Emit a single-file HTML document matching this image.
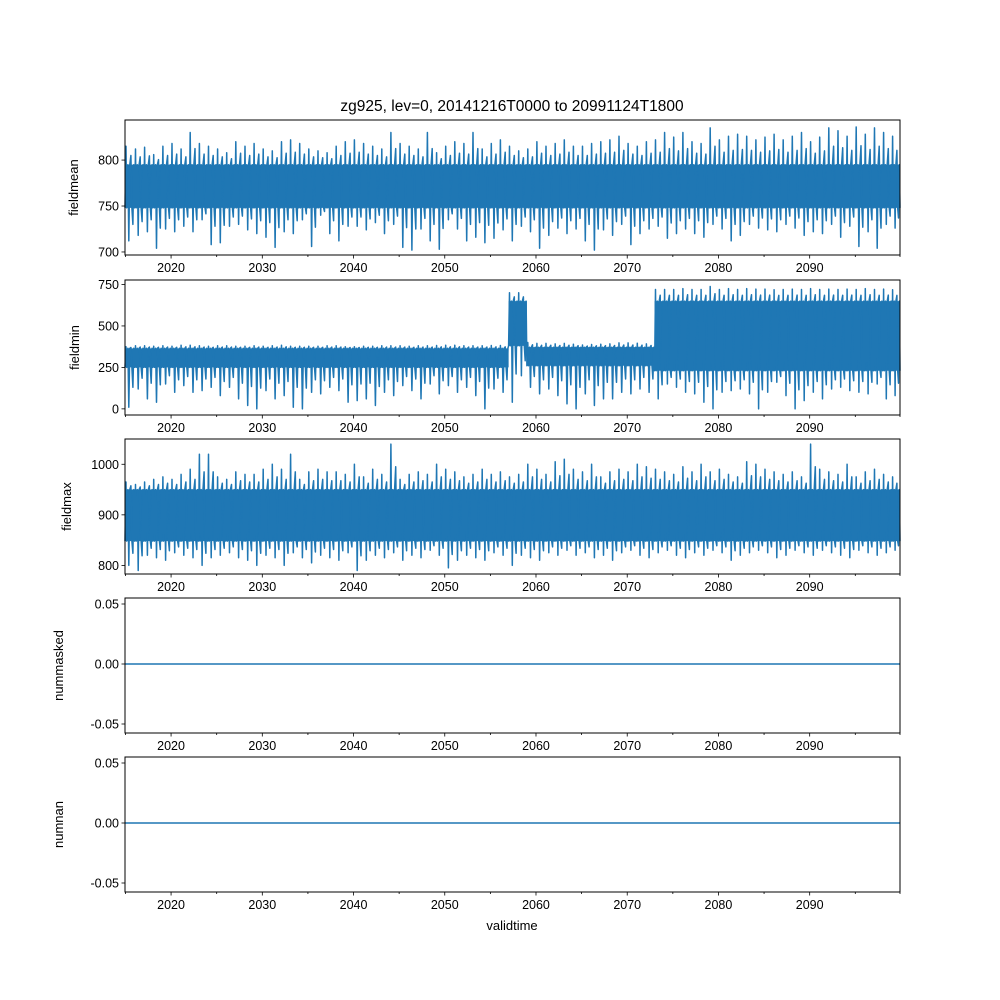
<!DOCTYPE html>
<html><head><meta charset="utf-8"><style>
body{margin:0;background:#fff}
svg{display:block;font-family:"Liberation Sans","DejaVu Sans",sans-serif}
</style></head><body>
<svg id="chart" width="1000" height="1000" viewBox="0 0 1000 1000">
<rect width="1000" height="1000" fill="#fff"/>
<text x="512" y="111" font-size="15.5" text-anchor="middle">zg925, lev=0, 20141216T0000 to 20991124T1800</text>
<text x="512" y="930" font-size="13" text-anchor="middle">validtime</text>
</svg>
<script>
// yearly envelopes, 2015..2099 (85 values each)
const fmHi=[815,812,814,806,815,818,812,830,818,815, 812,808,820,815,818,812,810,820,822,818, 812,810,808,815,820,822,818,815,812,830, 818,815,812,830,808,815,820,818,830,812, 818,822,815,810,812,820,815,818,822,815, 815,818,820,822,826,818,815,820,822,830, 825,830,820,818,835,822,826,828,826,822, 825,828,822,826,830,820,825,835,832,826, 836,828,835,830,826];
const fmLo=[712,718,722,704,725,722,728,722,735,708, 710,728,730,724,720,716,705,722,720,735, 706,740,720,712,728,728,724,732,720,730, 705,702,725,712,703,735,725,712,716,710, 715,724,712,728,722,704,718,726,720,725, 712,702,724,718,730,708,720,725,728,715, 720,725,720,716,730,725,712,718,730,726, 724,722,730,726,718,722,720,730,716,728, 706,722,704,730,726];
const fmCoreLo=Array(85).fill(748);
const fmCoreHi=Array(85).fill(795);
const mnHi=[375,380,380,378,380,378,384,384,380,378, 380,380,378,378,380,378,380,384,378,378, 378,378,380,380,375,375,378,378,380,380, 380,378,380,380,382,384,384,380,380,380, 382,382,700,700,400,395,395,392,395,390, 385,388,390,392,398,398,396,392,720,720, 720,725,720,720,738,720,725,720,725,722, 722,718,720,722,720,725,720,722,720,722, 720,725,720,722,718];
const mnLo=[10,120,60,40,150,100,140,100,110,130, 80,130,60,20,0,110,60,80,10,0, 100,90,130,110,40,50,60,20,100,80, 140,110,60,150,90,140,100,130,80,0, 120,100,40,200,130,90,120,80,30,0, 90,20,60,60,100,90,120,100,60,150, 130,100,90,40,0,100,110,120,90,0, 100,160,80,0,50,100,60,120,130,110, 100,90,150,60,80];
const mnCoreLo=[250,250,250,250,250,250,250,250,250,250, 250,250,250,250,250,250,250,250,250,250, 250,250,250,250,250,250,250,250,250,250, 250,250,250,250,250,250,250,250,250,250, 250,250,380,380,260,260,260,260,260,260, 260,260,260,260,260,260,260,260,230,230, 230,230,230,230,230,230,230,230,230,230, 230,230,230,230,230,230,230,230,230,230, 230,230,230,230,230];
const mnCoreHi=[365,365,365,365,365,365,365,365,365,365, 365,365,365,365,365,365,365,365,365,365, 365,365,365,365,365,365,365,365,365,365, 365,365,365,365,365,365,365,365,365,365, 365,365,650,650,372,372,372,372,372,372, 372,372,372,372,372,372,372,372,650,650, 650,650,650,650,650,650,650,650,650,650, 650,650,650,650,650,650,650,650,650,650, 650,650,650,650,650];
const mxHi=[965,960,965,970,975,970,980,990,1020,1020, 975,970,985,980,980,990,1000,990,1020,970, 985,990,985,985,980,1000,975,990,980,1040, 970,980,985,980,1000,990,985,975,980,990, 980,985,975,980,1000,990,980,1005,1010,990, 985,1000,975,985,990,985,1000,995,990,985, 980,995,985,1000,985,990,980,975,1005,1000, 990,985,980,985,975,1040,990,985,980,1000, 975,985,990,980,975];
const mxLo=[800,790,820,815,810,825,820,815,800,815, 820,825,815,810,800,820,815,800,825,815, 805,820,815,810,825,790,810,820,815,825, 810,820,815,830,820,795,810,820,815,810, 825,820,800,820,815,810,825,820,830,820, 825,815,820,810,825,830,820,815,825,830, 820,815,825,820,830,825,810,820,825,830, 825,815,820,830,825,820,830,825,820,815, 830,825,820,825,830];
const mxCoreLo=Array(85).fill(848);
const mxCoreHi=Array(85).fill(950);
const xTickYears=[2020,2030,2040,2050,2060,2070,2080,2090];
const fmTicks=[700,750,800];
const mnTicks=[0,250,500,750];
const mxTicks=[800,900,1000];
const zTicks=[-0.05,0.00,0.05];

const NS="http://www.w3.org/2000/svg";
const svg=document.getElementById('chart');
const X0=125,X1=900,T0=2014.95,T1=2099.9;
const xs=t=>X0+(t-T0)/(T1-T0)*(X1-X0);
function mk(tag,attrs,parent){const e=document.createElementNS(NS,tag);for(const k in attrs)e.setAttribute(k,attrs[k]);(parent||svg).appendChild(e);return e;}
const C='#1f77b4';

function panel(name,top,bot,ymin,ymax,ticks,fmt,label,lx,hi,lo,clo,chi,flat){
  const g=mk('g',{});
  
  
  const ys=v=>bot-(v-ymin)/(ymax-ymin)*(bot-top);
  if(flat){
    const l=mk('line',{x1:X0,x2:X1,y1:ys(0),y2:ys(0),stroke:C,'stroke-width':1.5},g);
    
    
  } else {
    let pts=[];
    const n=hi.length;
    const binA=i=>Math.max(T0,2015+i-(i===0?0.05:0));
    const binB=i=>(i===n-1)?T1:2016+i;
    for(let i=0;i<n;i++){
      const t=binA(i);
      const w=binB(i)-t;
      const m1=(chi[i]+hi[i])/2, m2=(clo[i]+lo[i])/2;
      const seq=[[0,clo[i]],[0.1,hi[i]],[0.18,clo[i]],[0.3,chi[i]],[0.4,lo[i]],[0.5,chi[i]],[0.62,m1],[0.72,clo[i]],[0.82,m2],[0.92,chi[i]]];
      seq.forEach(s=>pts.push([xs(t+s[0]*w),ys(s[1])]));
    }
    pts.push([xs(T1),ys(clo[n-1])]);
    let poly=[];
    for(let i=0;i<n;i++){poly.push([xs(binA(i)),ys(chi[i])],[xs(binB(i)),ys(chi[i])]);}
    for(let i=n-1;i>=0;i--){poly.push([xs(binB(i)),ys(clo[i])],[xs(binA(i)),ys(clo[i])]);}
    const band=mk('polygon',{points:poly.map(p=>p.join(',')).join(' '),fill:C},g);
    
    
    const pl=mk('polyline',{points:pts.map(p=>p[0].toFixed(1)+','+p[1].toFixed(1)).join(' '),fill:'none',stroke:C,'stroke-width':1.5,'stroke-linejoin':'round'},g);
    
    
  }
  const fr=mk('rect',{x:X0,y:top,width:X1-X0,height:bot-top,fill:'none',stroke:'#000','stroke-width':1},g);
  
  
  for(let y=2015;y<=2099;y+=5){
    const x=xs(y);const major=y%10===0;
    mk('line',{x1:x,x2:x,y1:bot,y2:bot+(major?3.5:2),stroke:'#000','stroke-width':0.8},g);
  }
  mk('line',{x1:X1,x2:X1,y1:bot,y2:bot+2,stroke:'#000','stroke-width':0.8},g);
  xTickYears.forEach(y=>{
    const t=mk('text',{x:xs(y),y:bot+17,'font-size':12.5,'text-anchor':'middle'},g);t.textContent=y;
    
    
  });
  ticks.forEach(v=>{
    const y=ys(v);
    mk('line',{x1:X0-3.5,x2:X0,y1:y,y2:y,stroke:'#000','stroke-width':0.8},g);
    const t=mk('text',{x:X0-6,y:y+4.5,'font-size':12.5,'text-anchor':'end'},g);t.textContent=fmt(v);
    
    
  });
  const cy=(top+bot)/2;
  const yl=mk('text',{x:lx,y:cy,'font-size':13,'text-anchor':'middle',transform:`rotate(-90 ${lx} ${cy})`},g);
  yl.textContent=label;
  
  
}
panel('fieldmean',120,255,696.7,843.6,fmTicks,v=>v,'fieldmean',78,fmHi,fmLo,fmCoreLo,fmCoreHi,false);
panel('fieldmin',280,415,-37,777,mnTicks,v=>v,'fieldmin',79,mnHi,mnLo,mnCoreLo,mnCoreHi,false);
panel('fieldmax',439,574,783,1050,mxTicks,v=>v,'fieldmax',71,mxHi,mxLo,mxCoreLo,mxCoreHi,false);
panel('nummasked',598,733,-0.0575,0.0550,zTicks,v=>v.toFixed(2),'nummasked',63,null,null,null,null,true);
panel('numnan',757,892,-0.0575,0.0550,zTicks,v=>v.toFixed(2),'numnan',63,null,null,null,null,true);
</script>
</body></html>
